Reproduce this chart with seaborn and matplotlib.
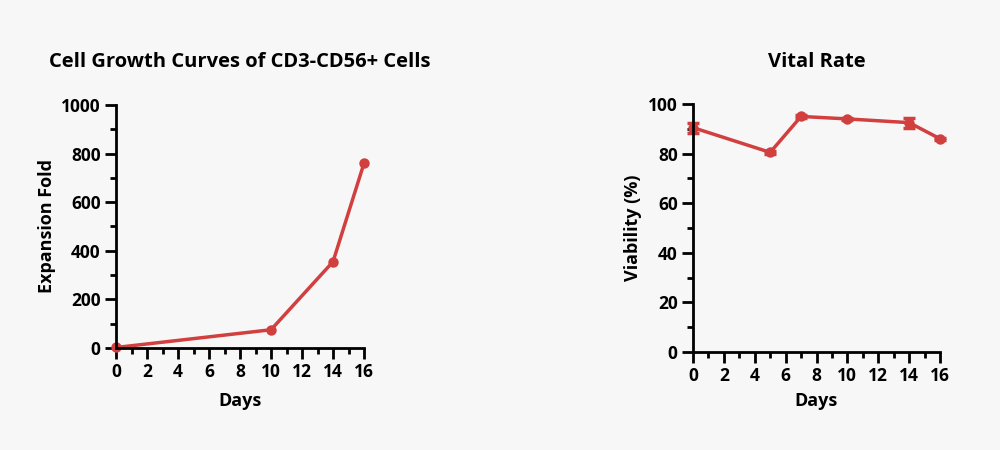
import numpy as np
import pandas as pd
import matplotlib
matplotlib.use('Agg')
import matplotlib.pyplot as plt
import seaborn as sns
from matplotlib.ticker import MultipleLocator

# 数据
growth_days = [0, 10, 14, 16]
growth_fold = [2, 75, 355, 760]

vital_days = [0, 5, 7, 10, 14, 16]
vital_rate = [90.5, 80.5, 95, 94, 92.5, 86]
vital_err = [2.0, 0.5, 0.5, 0.5, 2.0, 0.5]

red = '#d13f3f'
bg = '#f7f7f7'

sns.set_theme(style="ticks")
plt.rcParams['font.family'] = ['Open Sans', 'DejaVu Sans']
plt.rcParams['font.weight'] = 'bold'

fig = plt.figure(figsize=(10, 4.5), dpi=100, facecolor=bg)
ax1 = fig.add_axes([0.116, 0.2267, 0.248, 0.54])
ax2 = fig.add_axes([0.693, 0.2178, 0.247, 0.551])

df1 = pd.DataFrame({'Days': growth_days, 'Fold': growth_fold})
df2 = pd.DataFrame({'Days': vital_days, 'Rate': vital_rate})

# 折线图
sns.lineplot(data=df1, x='Days', y='Fold', ax=ax1, color=red, linewidth=2.5,
             marker='o', markersize=7.5, markeredgewidth=0, clip_on=False)
sns.lineplot(data=df2, x='Days', y='Rate', ax=ax2, color=red, linewidth=2.5,
             marker='o', markersize=7.5, markeredgewidth=0, clip_on=False)
ax2.errorbar(vital_days, vital_rate, yerr=vital_err, fmt='none', ecolor=red,
             elinewidth=2.5, capsize=4, capthick=2.5, clip_on=False)

for ax in (ax1, ax2):
    ax.set_facecolor(bg)
    sns.despine(ax=ax)
    for s in ['left', 'bottom']:
        ax.spines[s].set_linewidth(2)
        ax.spines[s].set_color('black')
    ax.set_xlim(0, 16)
    ax.xaxis.set_major_locator(MultipleLocator(2))
    ax.xaxis.set_minor_locator(MultipleLocator(1))
    ax.tick_params(which='major', length=8, width=2, color='black',
                   labelsize=12.5, labelcolor='black', pad=3)
    ax.tick_params(which='minor', length=4.5, width=2, color='black')

ax1.set_xlabel('Days', fontsize=13, fontweight='bold', color='black', labelpad=8)
ax2.set_xlabel('Days', fontsize=13, fontweight='bold', color='black', labelpad=5)

ax1.set_ylim(0, 1000)
ax1.yaxis.set_major_locator(MultipleLocator(200))
ax1.yaxis.set_minor_locator(MultipleLocator(100))
ax1.set_ylabel('Expansion Fold', fontsize=13, fontweight='bold', color='black')
ax1.set_title('Cell Growth Curves of CD3-CD56+ Cells', fontsize=14.5,
              fontweight='bold', pad=27, color='black')

ax2.set_ylim(0, 100)
ax2.yaxis.set_major_locator(MultipleLocator(20))
ax2.yaxis.set_minor_locator(MultipleLocator(10))
ax2.set_ylabel('Viability (%)', fontsize=13, fontweight='bold', color='black')
ax2.set_title('Vital Rate', fontsize=14.5, fontweight='bold', pad=27, color='black')

for ax in (ax1, ax2):
    for lab in ax.get_xticklabels() + ax.get_yticklabels():
        lab.set_fontweight('bold')

plt.savefig('out.png', dpi=100, facecolor=bg)
